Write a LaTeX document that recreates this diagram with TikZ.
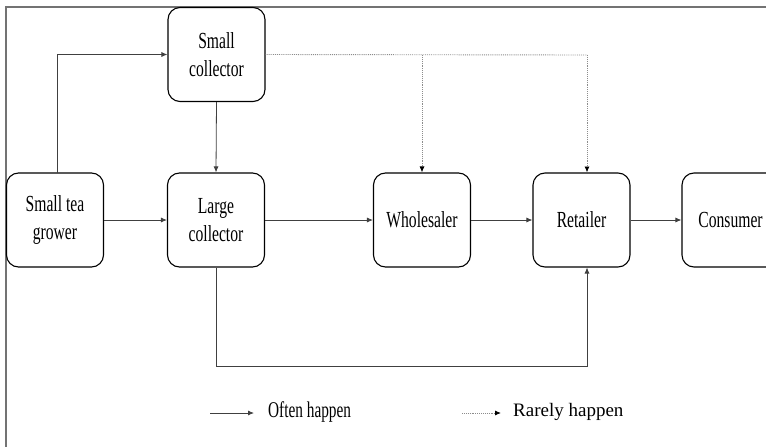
\documentclass[tikz,border=0pt]{standalone}
\usepackage{fontspec}
\setmainfont{Liberation Serif}
\newfontfamily\condfont[FakeStretch=0.68]{Liberation Serif}
\usetikzlibrary{arrows.meta}
\tikzset{
  box/.style={draw=black, line width=1.1pt, rounded corners=12pt, minimum width=97pt, minimum height=94pt, inner sep=0pt, align=center, font=\condfont\fontsize{23}{28.5}\selectfont},
  often/.style={draw=black!75, line width=0.8pt, -{Latex[length=6pt,width=5pt]}},
  rarely/.style={draw=black!45, line width=0.9pt, densely dotted},
  rarelyarrow/.style={rarely, -{Latex[length=6pt,width=5pt]}, arrows={[black]}},
  frameline/.style={draw=black!55, line width=1.6pt},
  legtext/.style={anchor=west, inner sep=0pt}
}
\begin{document}
\begin{tikzpicture}[x=1pt,y=-1pt]
\useasboundingbox (0,0) rectangle (766,447);
% frame (cropped)
\draw[frameline] (6,450) -- (6,7) -- (770,7);
% boxes
\node[box] (grower) at (55,220) {Small tea\\grower};
\node[box] (sc) at (216.5,54.5) {Small\\collector};
\node[box] (lc) at (216,220) {Large\\collector};
\node[box] (wh) at (422,220) {Wholesaler};
\node[box] (re) at (581.5,220) {Retailer};
\node[box] (co) at (730.5,220) {Consumer};
% helper coordinates
\coordinate (dtop) at (587,55);
\coordinate (dwh) at (422,55);
\coordinate (bl) at (216,366);
\coordinate (br) at (587,366);
% solid connectors
\draw[often] (57,173) |- (sc.west);
\draw[often] (grower.east) -- (lc.west);
\draw[often] (sc.south) -- (lc.north);
\draw[often] (lc.east) -- (wh.west);
\draw[often] (wh.east) -- (re.west);
\draw[often] (re.east) -- (co.west);
\draw[often] (lc.south) -- (bl) -- (br) -- (587,267.5);
% dotted connectors
\draw[rarely] (sc.east) -- (dtop);
\draw[rarelyarrow] (dtop) -- (587,172.5);
\draw[rarelyarrow] (dwh) -- (wh.north);
% legend
\coordinate (l1a) at (210,413);
\coordinate (l1b) at (254,413);
\coordinate (l2a) at (462,413);
\coordinate (l2b) at (501,413);
\draw[often] (l1a) -- (l1b);
\node[legtext, font=\condfont\fontsize{22.5}{26}\selectfont] (lt1) at (268,412) {Often happen};
\draw[rarelyarrow] (l2a) -- (l2b);
\node[legtext, font=\fontsize{19}{22}\selectfont] (lt2) at (513,412) {Rarely happen};
\end{tikzpicture}
\end{document}
